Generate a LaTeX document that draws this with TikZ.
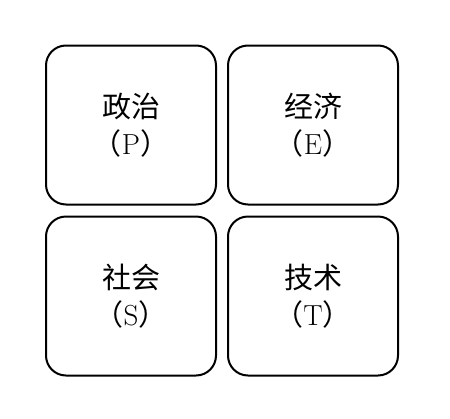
\documentclass[tikz,border=0pt]{standalone}
\usepackage{fontspec}
\newfontfamily\cjk{Noto Sans CJK SC}
\begin{document}
\begin{tikzpicture}[x=1pt,y=-1pt]
    \useasboundingbox (0,0) rectangle (450,418);
    \begin{scope}[every node/.style={rectangle,rounded corners=20pt,line width=2pt,draw,minimum width=170pt,minimum height=159pt,align=center,font=\cjk\fontsize{29}{37}\selectfont}]
      \node (p) at (131,125) {政治\\（{\rmfamily P}）};
      \node (e) at (313,125) {经济\\（{\rmfamily E}）};
      \node (s) at (131,296) {社会\\（{\rmfamily S}）};
      \node (t) at (313,296) {技术\\（{\rmfamily T}）};
    \end{scope}
\end{tikzpicture}
\end{document}
